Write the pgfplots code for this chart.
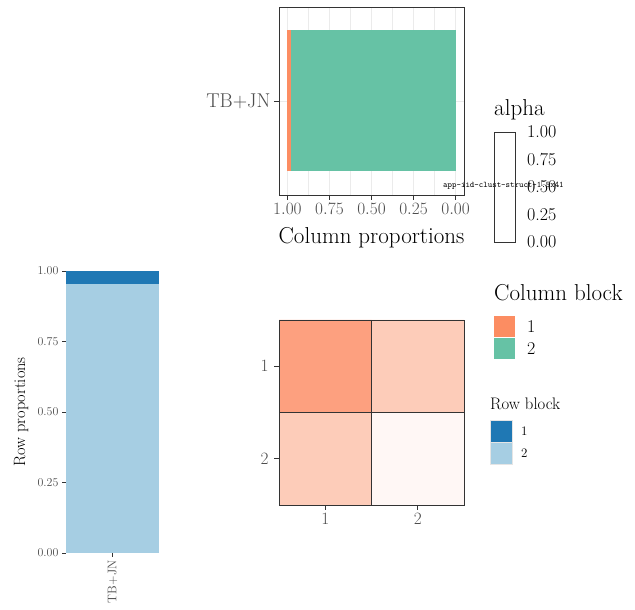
\documentclass[border=0pt]{standalone}
\usepackage{fontspec}
\usepackage{pgfplots}
\pgfplotsset{compat=1.18}
\newcommand\fs[1]{\fontsize{#1}{#1}\selectfont}
\definecolor{cOrange}{HTML}{FC8D62}
\definecolor{cGreen}{HTML}{66C2A5}
\definecolor{cDark}{HTML}{1F78B4}
\definecolor{cLight}{HTML}{A6CEE3}
\definecolor{hA}{HTML}{FDA07F}
\definecolor{hB}{HTML}{FDCCB9}
\definecolor{hC}{HTML}{FFF7F5}
\definecolor{gthirty}{HTML}{4D4D4D}
\definecolor{gtwenty}{HTML}{333333}
\definecolor{ggrid}{HTML}{EBEBEB}
\pgfplotstableread{
cat col1 col2
1 0.02 0.98
}\coltab
\pgfplotstableread{
cat row2 row1
1 0.955 0.045
}\rowtab
\begin{document}
\begin{tikzpicture}[x=1pt,y=1pt]
\path[use as bounding box] (0pt,0pt) rectangle (635pt,610pt);
% ---------- top panel ----------
\begin{axis}[at={(279pt,415pt)}, anchor=south west, width=185pt, height=188pt, scale only axis,
  xmin=-0.05, xmax=1.05, x dir=reverse, ymin=0.4, ymax=1.6,
  xbar stacked, bar width=0.9, bar shift=0pt,
  xtick={0,0.25,0.5,0.75,1}, minor xtick={0.125,0.375,0.625,0.875},
  ytick={1}, yticklabels={TB+JN},
  xticklabel style={/pgf/number format/.cd, fixed, fixed zerofill, precision=2},
  grid=both, major grid style={draw=ggrid, line width=0.9pt}, minor grid style={draw=ggrid, line width=0.5pt},
  axis line style={draw=gtwenty, line width=0.9pt},
  tick style={draw=gtwenty, line width=0.9pt}, tick align=outside, major tick length=5pt, minor tick length=0pt,
  xtick pos=left, ytick pos=left,
  ticklabel style={font=\fs{18}, text=gthirty},
  yticklabel style={font=\fs{20}}]
\addplot[fill=cGreen, draw=none] table[x=col2, y=cat] {\coltab};
\addplot[fill=cOrange, draw=none] table[x=col1, y=cat] {\coltab};
\end{axis}
\node[anchor=base, font=\fs{23}] at (371.5pt,366pt) {Column proportions};
% ---------- tiny caption ----------
\node[anchor=west, font=\ttfamily\fs{8.5}, inner sep=0pt] at (443pt,424pt) {app-iid-clust-struct-1.5x41};
% ---------- left panel ----------
\begin{axis}[at={(66pt,57pt)}, anchor=south west, width=93pt, height=282pt, scale only axis,
  xmin=0.55, xmax=1.45, ymin=0, ymax=1,
  ybar stacked, bar width=0.9, bar shift=0pt,
  ytick={0,0.25,0.5,0.75,1}, xtick={1}, xticklabels={TB+JN},
  yticklabel style={/pgf/number format/.cd, fixed, fixed zerofill, precision=2},
  xticklabel style={rotate=90, anchor=east},
  axis line style={draw=none},
  tick style={draw=gtwenty, line width=0.8pt}, tick align=outside, major tick length=4pt,
  xtick pos=left, ytick pos=left,
  ticklabel style={font=\fs{12.5}, text=gthirty}]
\addplot[fill=cLight, draw=none] table[x=cat, y=row2] {\rowtab};
\addplot[fill=cDark, draw=none] table[x=cat, y=row1] {\rowtab};
\end{axis}
\node[rotate=90, font=\fs{16.4}] at (21pt,198pt) {Row proportions};
% ---------- heatmap ----------
\begin{axis}[at={(279pt,105pt)}, anchor=south west, width=185pt, height=185pt, scale only axis,
  xmin=0.5, xmax=2.5, ymin=0.5, ymax=2.5, y dir=reverse,
  xtick={1,2}, ytick={1,2},
  axis line style={draw=gtwenty, line width=0.9pt},
  tick style={draw=gtwenty, line width=0.9pt}, tick align=outside, major tick length=5pt,
  xtick pos=left, ytick pos=left,
  ticklabel style={font=\fs{18}, text=gthirty}, yticklabel style={xshift=-2pt}, axis on top]
\addplot[fill=hA, draw=gtwenty, line width=0.8pt] coordinates {(0.5,0.5)(1.5,0.5)(1.5,1.5)(0.5,1.5)(0.5,0.5)};
\addplot[fill=hB, draw=gtwenty, line width=0.8pt] coordinates {(1.5,0.5)(2.5,0.5)(2.5,1.5)(1.5,1.5)(1.5,0.5)};
\addplot[fill=hB, draw=gtwenty, line width=0.8pt] coordinates {(0.5,1.5)(1.5,1.5)(1.5,2.5)(0.5,2.5)(0.5,1.5)};
\addplot[fill=hC, draw=gtwenty, line width=0.8pt] coordinates {(1.5,1.5)(2.5,1.5)(2.5,2.5)(1.5,2.5)(1.5,1.5)};
\end{axis}
% ---------- alpha legend ----------
\node[anchor=base west, font=\fs{23}, inner sep=0pt] at (494pt,494pt) {alpha};
\draw[gtwenty, line width=0.8pt] (494pt,368pt) rectangle (515pt,478pt);
\foreach \v/\l in {0/0.00,0.25/0.25,0.5/0.50,0.75/0.75,1/1.00}{
  \node[anchor=west, font=\fs{18}, inner sep=0pt] at (527pt,368pt+110pt*\v) {\l};
}
% ---------- column block legend ----------
\node[anchor=base west, font=\fs{23}, inner sep=0pt] at (494pt,309pt) {Column block};
\fill[cOrange] (494pt,273pt) rectangle (515pt,294pt);
\fill[cGreen] (494pt,251pt) rectangle (515pt,272pt);
\node[anchor=west, font=\fs{18}, inner sep=0pt] at (527pt,283pt) {1};
\node[anchor=west, font=\fs{18}, inner sep=0pt] at (527pt,261pt) {2};
% ---------- row block legend ----------
\node[anchor=base west, font=\fs{16.7}, inner sep=0pt] at (490pt,200pt) {Row block};
\filldraw[fill=cDark, draw=white!90!black] (490pt,168pt) rectangle (512pt,190pt);
\filldraw[fill=cLight, draw=white!90!black] (490pt,146pt) rectangle (512pt,168pt);
\node[anchor=west, font=\fs{13}, inner sep=0pt] at (521pt,179pt) {1};
\node[anchor=west, font=\fs{13}, inner sep=0pt] at (521pt,157pt) {2};
\end{tikzpicture}
\end{document}
